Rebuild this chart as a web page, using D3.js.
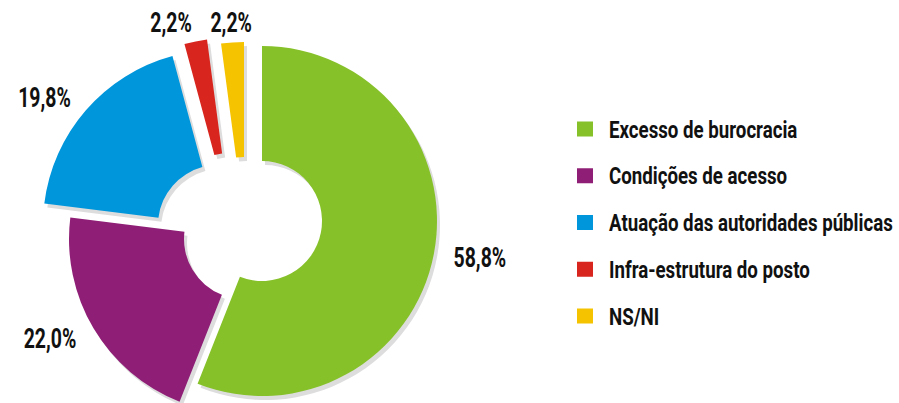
<!DOCTYPE html>
<html>
<head>
<meta charset="utf-8">
<script src="https://cdn.jsdelivr.net/npm/d3@7"></script>
<style>
  html, body { margin: 0; padding: 0; background: #ffffff; }
  svg { display: block; }
  text { font-family: Roboto, "DejaVu Sans Condensed", "Liberation Sans", sans-serif; font-weight: bold; fill: #111111; }
</style>
</head>
<body>
<svg id="chart" width="899" height="403"></svg>
<script>
// Motivos apontados (percentual de respostas)
const categories = [
  "Excesso de burocracia",
  "Condições de acesso",
  "Atuação das autoridades públicas",
  "Infra-estrutura do posto",
  "NS/NI"
];
const values = [58.8, 22.0, 19.8, 2.2, 2.2];
const colors = ["#86c12a", "#8f1f76", "#0096dc", "#d8261f", "#f6c300"];

// Layout
const W = 899, H = 403;
const cx = 262, cy = 221;
const outerR = 175, innerR = 60;
const labelR = 195;
// each wedge is pulled away from the ring by its own shift
const shifts = [[0, 0], [-18, 18], [-44, 4], [-32, -8], [-18, -4]];
const shadowDx = 3, shadowDy = 4;
const pctScale = 0.72;     // condensed look for the percentages
const legendX = 577, legendTextX = 609, legendRight = W - 6;

const svg = d3.select("#chart");

const ptBR = d3.formatLocale({ decimal: ",", thousands: ".", grouping: [3], currency: ["R$", ""] });
const fmt = ptBR.format(".1f");

const pie = d3.pie().sort(null).startAngle(0).endAngle(2 * Math.PI).value(d => d.value);
const arc = d3.arc().innerRadius(innerR).outerRadius(outerR);

const rows = categories.map((c, i) => ({ name: c, value: values[i], color: colors[i], shift: shifts[i] }));
const arcs = pie(rows);

const ring = svg.append("g").attr("transform", `translate(${cx},${cy})`);

// shadows first, then the coloured wedges on top
ring.selectAll("path.shadow")
  .data(arcs)
  .join("path")
  .attr("class", "shadow")
  .attr("fill", "#dddddd")
  .attr("transform", d => `translate(${d.data.shift[0] + shadowDx},${d.data.shift[1] + shadowDy})`)
  .attr("d", arc);

ring.selectAll("path.slice")
  .data(arcs)
  .join("path")
  .attr("class", "slice")
  .attr("fill", d => d.data.color)
  .attr("transform", d => `translate(${d.data.shift[0]},${d.data.shift[1]})`)
  .attr("d", arc);

// percentage labels just outside each wedge
ring.selectAll("text.pct")
  .data(arcs)
  .join("text")
  .attr("class", "pct")
  .attr("font-size", 27)
  .attr("dy", "0.36em")
  .attr("text-anchor", d => {
    const s = Math.sin((d.startAngle + d.endAngle) / 2);
    return s > 0.1 ? "start" : (s < -0.1 ? "end" : "middle");
  })
  .attr("transform", d => {
    const a = (d.startAngle + d.endAngle) / 2;
    const x = d.data.shift[0] + labelR * Math.sin(a);
    const y = d.data.shift[1] - labelR * Math.cos(a);
    return `translate(${x},${y}) scale(${pctScale},1)`;
  })
  .text(d => fmt(d.data.value) + "%");

// legend
const legendY = d3.scalePoint().domain(categories).range([129, 316]);
const legend = svg.append("g");
const item = legend.selectAll("g")
  .data(rows)
  .join("g")
  .attr("transform", d => `translate(${legendX},${legendY(d.name)})`);

item.append("rect")
  .attr("x", 0).attr("y", -7.5)
  .attr("width", 16).attr("height", 15)
  .attr("fill", d => d.color);

const names = item.append("text")
  .attr("font-size", 24)
  .attr("dy", "0.36em")
  .text(d => d.name);

// squeeze the legend text horizontally so the longest entry fits the page
const widest = d3.max(names.nodes(), n => n.getComputedTextLength());
const legendScale = Math.min(1, (legendRight - legendTextX) / widest);
names.attr("transform", `translate(${legendTextX - legendX},0) scale(${legendScale},1)`);
</script>
</body>
</html>
